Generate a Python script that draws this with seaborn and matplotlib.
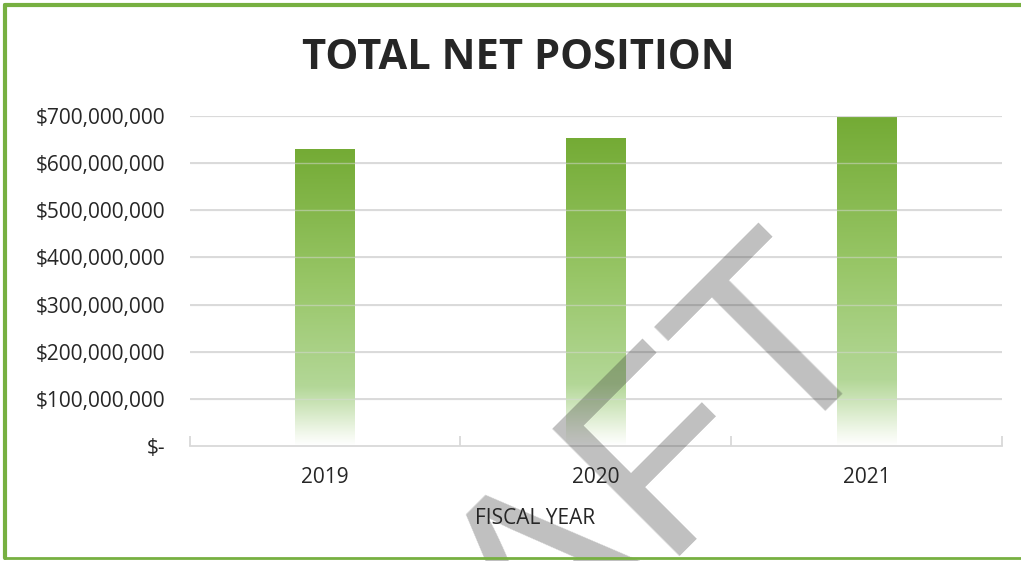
import numpy as np
import pandas as pd
import seaborn as sns
import matplotlib
matplotlib.use('Agg')
import matplotlib.pyplot as plt
from matplotlib.colors import LinearSegmentedColormap
from matplotlib.ticker import FuncFormatter, FixedLocator
from matplotlib.lines import Line2D

# 数据
years = ['2019', '2020', '2021']
net_position = [630_000_000, 653_000_000, 697_000_000]
y_ticks = [0, 100_000_000, 200_000_000, 300_000_000, 400_000_000,
           500_000_000, 600_000_000, 700_000_000]

df = pd.DataFrame({'year': years, 'value': net_position})

sns.set_theme(style='white')
plt.rcParams['font.family'] = ['Open Sans', 'DejaVu Sans']

text_color = '#262626'
grid_color = '#D9D9D9'
border_green = '#77B041'

fig = plt.figure(figsize=(10.21, 5.61), dpi=100)
ax = fig.add_axes([0.186, 0.205, 0.795, 0.588])

sns.barplot(data=df, x='year', y='value', color='#7AAC3A', width=0.22,
            ax=ax, zorder=3)

# 渐变填充（顶部深绿 -> 底部白色）
cmap = LinearSegmentedColormap.from_list('bar_grad', [
    (0.0, '#FFFFFF'),
    (0.04, '#F2F8EC'),
    (0.2, '#B3D797'),
    (0.55, '#98C667'),
    (1.0, '#74AB35'),
])
grad = np.linspace(0, 1, 256).reshape(-1, 1)
for p in ax.patches:
    x0, y0 = p.get_x(), p.get_y()
    w, h = p.get_width(), p.get_height()
    p.set_facecolor('none')
    p.set_edgecolor('none')
    ax.imshow(grad, cmap=cmap, origin='lower', aspect='auto',
              extent=[x0, x0 + w, y0, y0 + h], zorder=2.5,
              interpolation='bilinear')

ax.set_xlim(-0.5, 2.5)
ax.set_ylim(0, 700_000_000)
ax.set_yticks(y_ticks)
ax.yaxis.set_major_formatter(
    FuncFormatter(lambda v, _: '$-' if v == 0 else f'${v:,.0f}'))

# 网格线：底层完整，条形上方再叠一层淡线
for t in y_ticks[1:]:
    ax.axhline(t, color=grid_color, lw=1.3, zorder=1)
    ax.axhline(t, color=grid_color, lw=1.0, alpha=0.5, zorder=3.2)

for side in ['left', 'right', 'top']:
    ax.spines[side].set_visible(False)
ax.spines['bottom'].set_color(grid_color)
ax.spines['bottom'].set_linewidth(1.3)

ax.tick_params(axis='y', length=0, pad=18, labelsize=15, labelcolor=text_color)
ax.tick_params(axis='x', which='major', length=0, pad=15, labelsize=15,
               labelcolor=text_color)
ax.xaxis.set_minor_locator(FixedLocator([-0.5, 0.5, 1.5, 2.5]))
ax.tick_params(axis='x', which='minor', bottom=True, direction='in',
               length=7, width=1.3, color=grid_color)

ax.set_ylabel('')
ax.set_xlabel('FISCAL YEAR', fontsize=15, color=text_color)
ax.xaxis.set_label_coords(0.425, -0.221)
ax.xaxis.label.set_va('center')

# 坐标轴文字放在水印之上
ax.xaxis.set_zorder(5)
ax.yaxis.set_zorder(5)

fig.text(0.508, 0.895, 'TOTAL NET POSITION', ha='center', va='center',
         fontsize=30, fontweight='bold', color=text_color)

# 绿色边框
fig.add_artist(Line2D([0.005, 0.005], [0.005, 0.991], transform=fig.transFigure,
                      color=border_green, lw=3))
fig.add_artist(Line2D([0.005, 1.0], [0.991, 0.991], transform=fig.transFigure,
                      color=border_green, lw=3))
fig.add_artist(Line2D([0.005, 1.0], [0.005, 0.005], transform=fig.transFigure,
                      color=border_green, lw=2))

# 水印（在条形之上、坐标轴文字之下）
ax.text(0.866, 0.412, 'DRAFT', transform=fig.transFigure, rotation=45,
        rotation_mode='anchor', ha='right', va='baseline', fontsize=188,
        family='Liberation Sans', color='#2E2E2E', alpha=0.3, zorder=4,
        clip_on=False)

fig.savefig('out.png', dpi=100)
